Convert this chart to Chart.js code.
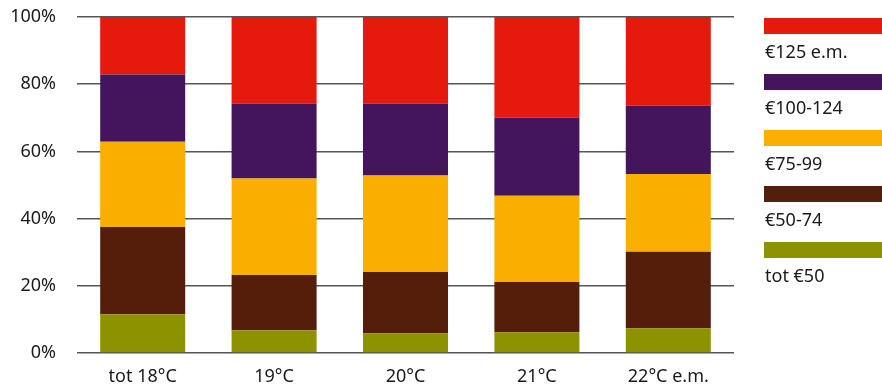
<!DOCTYPE html>
<html><head><meta charset="utf-8">
<script src="https://cdn.jsdelivr.net/npm/chart.js@4/dist/chart.umd.min.js"></script>
<style>
html,body{margin:0;padding:0;background:#fff;}
#wrap{position:relative;width:882px;height:384px;}
#c{position:absolute;left:0;top:0;}
#legend{position:absolute;left:764px;top:18px;width:118px;font-family:"Noto Sans",sans-serif;font-size:18px;color:#1a1a1a;}
.item{height:56px;position:relative;}
.box{width:118px;height:16px;}
.lab{position:absolute;left:1px;top:21px;line-height:24px;white-space:nowrap;}
</style></head>
<body><div id="wrap"><canvas id="c" width="882" height="384"></canvas><div id="legend"></div></div>
<script>
const categories = ["tot 18°C","19°C","20°C","21°C","22°C e.m."];
const seriesNames = ["tot €50","€50-74","€75-99","€100-124","€125 e.m."];
const totEur50   = [11.5, 6.8, 5.9, 6.2, 7.4];
const eur50_74   = [26.0, 16.4, 18.2, 14.9, 22.7];
const eur75_99   = [25.4, 28.7, 28.7, 25.7, 23.2];
const eur100_124 = [20.0, 22.3, 21.4, 23.3, 20.3];
const eur125em   = [17.1, 25.8, 25.8, 29.9, 26.4];
const yTicks = [0,20,40,60,80,100];
const colors = ["#8c9200","#541e0b","#f9ae00","#44155c","#e5190c"];
const seriesData = [totEur50, eur50_74, eur75_99, eur100_124, eur125em];

const FONT = {family:'"Noto Sans", sans-serif', size:18};
const datasets = seriesData.map((d,i)=>({label:seriesNames[i],data:d,backgroundColor:colors[i],borderWidth:0,barPercentage:0.647,categoryPercentage:1}));

new Chart(document.getElementById('c'),{
  type:'bar',
  data:{labels:categories,datasets},
  options:{
    responsive:false,animation:false,
    layout:{padding:{top:17,right:148,left:0,bottom:0}},
    plugins:{legend:{display:false},tooltip:{enabled:false}},
    scales:{
      x:{stacked:true,
        grid:{display:false,drawTicks:false},
        border:{display:false},
        ticks:{color:'#1a1a1a',font:FONT,padding:13,maxRotation:0},
        afterFit:s=>{s.height=31;s.paddingLeft=0;s.paddingRight=0;}
      },
      y:{stacked:true,min:0,max:100,
        afterBuildTicks:s=>{s.ticks=yTicks.map(v=>({value:v}));},
        grid:{color:'#555',lineWidth:1.4,drawTicks:false},
        border:{display:false},
        ticks:{color:'#1a1a1a',font:FONT,padding:21,callback:v=>v+'%'},
        afterFit:s=>{s.width=77;s.paddingTop=0;s.paddingBottom=0;}
      }
    }
  }
});

const lg=document.getElementById('legend');
for(let i=seriesNames.length-1;i>=0;i--){
  const it=document.createElement('div');it.className='item';
  it.innerHTML='<div class="box" style="background:'+colors[i]+'"></div><div class="lab">'+seriesNames[i]+'</div>';
  lg.appendChild(it);
}
</script></body></html>
